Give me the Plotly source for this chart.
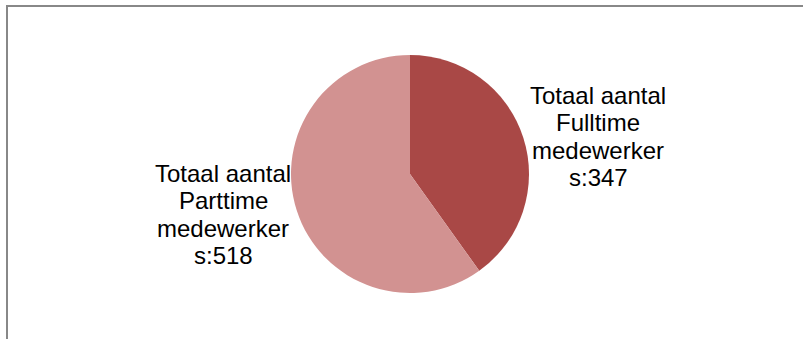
import plotly.graph_objects as go

categories = ["Totaal aantal Fulltime medewerkers", "Totaal aantal Parttime medewerkers"]
label_lines = [["Totaal aantal", "Fulltime", "medewerker", "s:"], ["Totaal aantal", "Parttime", "medewerker", "s:"]]
values = [347, 518]
colors = ["#A94846", "#D29291"]

W, H = 803, 339
cx, cy, r = 410, 174, 119

fig = go.Figure(go.Pie(
    labels=categories,
    values=values,
    sort=False,
    direction="clockwise",
    rotation=0,
    textinfo="none",
    hoverinfo="label+value",
    marker=dict(colors=colors, line=dict(width=0)),
    domain=dict(x=[(cx - r) / W, (cx + r) / W], y=[(H - cy - r) / H, (H - cy + r) / H]),
    showlegend=False,
))

label_pos = [(598, 95), (223, 173)]  # x centre, y centre of first line (px)
line_step = 27.5
for lines, v, (lx, ly) in zip(label_lines, values, label_pos):
    full = lines[:-1] + [lines[-1] + str(v)]
    for i, t in enumerate(full):
        fig.add_annotation(
            x=lx / W, y=1 - (ly + i * line_step) / H, xref="paper", yref="paper",
            text=t, showarrow=False, align="center",
            xanchor="center", yanchor="middle",
            font=dict(family="Liberation Sans, Arial", size=24, color="#000000"),
        )

fig.add_shape(type="rect", xref="paper", yref="paper",
              x0=7 / W, x1=1.02, y0=-0.05, y1=1 - 6 / H,
              line=dict(color="#888888", width=2), fillcolor="rgba(0,0,0,0)")

fig.update_layout(
    width=W, height=H,
    margin=dict(l=0, r=0, t=0, b=0),
    paper_bgcolor="white", plot_bgcolor="white",
)

fig.write_html("out.html")
